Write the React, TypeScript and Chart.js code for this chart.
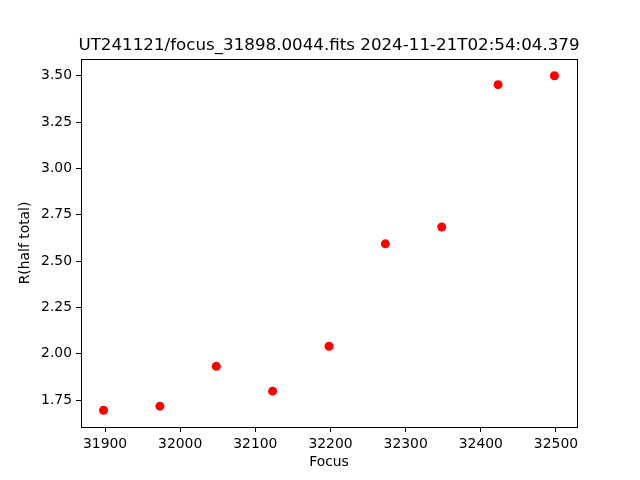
import React, { useEffect, useRef } from "react";
import { Chart, registerables } from "chart.js";

Chart.register(...registerables);

const TITLE = "UT241121/focus_31898.0044.fits 2024-11-21T02:54:04.379";
const X_LABEL = "Focus";
const Y_LABEL = "R(half total)";
const focusValues = [31898, 31973, 32048, 32123, 32198, 32273, 32348, 32423, 32498];
const radiusValues = [1.695, 1.717, 1.932, 1.798, 2.04, 2.593, 2.684, 3.452, 3.5];
const xTicks = [31900, 32000, 32100, 32200, 32300, 32400, 32500];
const yTicks = [1.75, 2.0, 2.25, 2.5, 2.75, 3.0, 3.25, 3.5];

const FONT = "'DejaVu Sans', sans-serif";

export default function App() {
  const ref = useRef<HTMLCanvasElement>(null);
  useEffect(() => {
    if (!ref.current) return;
    const boxPlugin = {
      id: "box",
      afterDraw(chart: any) {
        const { ctx, chartArea: a } = chart;
        ctx.save();
        ctx.strokeStyle = "#000";
        ctx.lineWidth = 1;
        ctx.strokeRect(Math.round(a.left) + 0.5, Math.round(a.top) + 0.5, Math.round(a.right - a.left), Math.round(a.bottom - a.top));
        ctx.fillStyle = "#000";
        ctx.font = `16.7px ${FONT}`;
        ctx.textAlign = "center";
        ctx.textBaseline = "alphabetic";
        ctx.fillText(TITLE, (a.left + a.right) / 2, 50);
        ctx.restore();
      },
    };
    const chart = new Chart(ref.current, {
      type: "scatter",
      data: {
        datasets: [
          {
            data: focusValues.map((x, i) => ({ x, y: radiusValues[i] })),
            backgroundColor: "#ff0000",
            borderColor: "#ff0000",
            pointRadius: 4.5,
            pointHoverRadius: 4.5,
            borderWidth: 0,
          },
        ],
      },
      options: {
        animation: false,
        responsive: false,
        layout: { padding: { top: 59, left: 0, right: 63, bottom: 0 } },
        plugins: { legend: { display: false }, tooltip: { enabled: false }, title: { display: false } },
        scales: {
          x: {
            type: "linear",
            min: 31868,
            max: 32528,
            afterBuildTicks: (s: any) => { s.ticks = xTicks.map((v) => ({ value: v })); },
            afterFit: (s: any) => { s.height = 53; },
            grid: { drawOnChartArea: false, tickLength: 5, color: "#000", tickWidth: 1 },
            border: { display: false },
            ticks: { color: "#000", font: { family: FONT, size: 13.9 }, padding: 4, maxRotation: 0, autoSkip: false, callback: (v: any) => String(v) },
            title: { display: true, text: X_LABEL, color: "#000", font: { family: FONT, size: 13.9 }, padding: { top: 0, bottom: 9.5 } },
          },
          y: {
            type: "linear",
            min: 1.6045,
            max: 3.5905,
            afterBuildTicks: (s: any) => { s.ticks = yTicks.map((v) => ({ value: v })); },
            afterFit: (s: any) => { s.width = 81; },
            grid: { drawOnChartArea: false, tickLength: 5, color: "#000", tickWidth: 1 },
            border: { display: false },
            ticks: { color: "#000", font: { family: FONT, size: 13.9 }, padding: 4, autoSkip: false, callback: (v: any) => Number(v).toFixed(2) },
            title: { display: true, text: Y_LABEL, color: "#000", font: { family: FONT, size: 13.9 }, padding: { top: 17, bottom: 0 } },
          },
        },
      },
      plugins: [boxPlugin],
    } as any);
    return () => chart.destroy();
  }, []);
  return (
    <div style={{ position: "fixed", left: 0, top: 0, width: 640, height: 480, background: "#fff" }}>
      <canvas ref={ref} width={640} height={480} style={{ width: 640, height: 480 }} />
    </div>
  );
}
